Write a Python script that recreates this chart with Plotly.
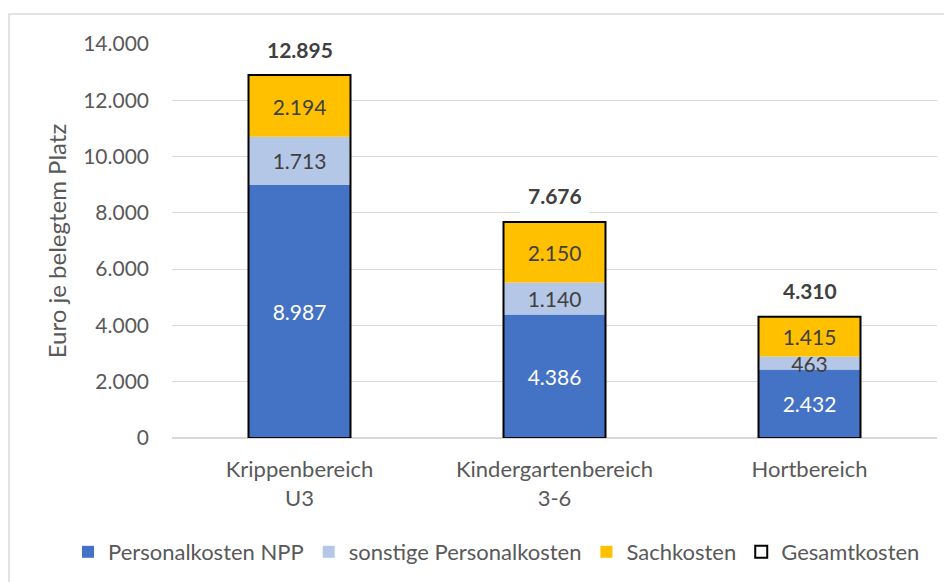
import plotly.graph_objects as go

categories = ["Krippenbereich<br>U3", "Kindergartenbereich<br>3-6", "Hortbereich"]
personal_npp = [8987, 4386, 2432]
sonstige_personal = [1713, 1140, 463]
sachkosten = [2194, 2150, 1415]
gesamtkosten = [12895, 7676, 4310]
y_ticks = [0, 2000, 4000, 6000, 8000, 10000, 12000, 14000]


def de(v):
    return f"{v:,}".replace(",", ".")


FONT = "Lato"
base_sonst = personal_npp
base_sach = [a + b for a, b in zip(personal_npp, sonstige_personal)]

fig = go.Figure()
fig.add_trace(go.Bar(
    name="Personalkosten NPP", x=categories, y=personal_npp, base=[0] * 3,
    marker=dict(color="#4472C4", line=dict(width=0)),
    text=[de(v) for v in personal_npp], textposition="inside", insidetextanchor="middle",
    textfont=dict(color="white", size=21, family=FONT), width=0.4,
))
fig.add_trace(go.Bar(
    name="sonstige Personalkosten", x=categories, y=sonstige_personal, base=base_sonst,
    marker=dict(color="#B4C7E7", line=dict(width=0)),
    text=[de(v) for v in sonstige_personal], textposition="inside", insidetextanchor="middle",
    textfont=dict(color="#404040", size=21, family=FONT), width=0.4,
))
fig.add_trace(go.Bar(
    name="Sachkosten", x=categories, y=sachkosten, base=base_sach,
    marker=dict(color="#FFC000", line=dict(width=0)),
    text=[de(v) for v in sachkosten], textposition="inside", insidetextanchor="middle",
    textfont=dict(color="#404040", size=21, family=FONT), width=0.4,
))
fig.add_trace(go.Bar(
    name="Gesamtkosten", x=categories, y=gesamtkosten, base=[0] * 3,
    marker=dict(color="rgba(0,0,0,0)", line=dict(color="black", width=2)),
    width=0.4, hoverinfo="skip",
))

for c, v in zip(categories, gesamtkosten):
    fig.add_annotation(
        x=c, y=v, text=f"<b>{de(v)}</b>", showarrow=False, yanchor="middle",
        yshift=26, bgcolor="white", borderpad=7,
        font=dict(family=FONT, size=21, color="#404040"),
    )

# page body has an 8px margin; plot area in figure coords: x 164..929, y 36..430
PL, PR, PT, PB = 164, 929, 36, 430
PW, PH = PR - PL, PB - PT

# outer chart border (right and bottom edges run off the picture)
fig.add_shape(type="rect", xref="paper", yref="paper",
              x0=(1 - PL) / PW, x1=(975 - PL) / PW,
              y0=(PB - 600) / PH, y1=(PB - 6) / PH,
              line=dict(color="#D9D9D9", width=1.5), fillcolor="rgba(0,0,0,0)", layer="below")

fig.update_layout(
    width=952, height=582,
    margin=dict(l=PL, r=952 - PR, t=PT, b=582 - PB),
    paper_bgcolor="white", plot_bgcolor="white",
    barmode="overlay", bargap=0.6,
    separators=",.",
    font=dict(family=FONT, size=21, color="#595959"),
    uniformtext=dict(minsize=21, mode="show"),
    showlegend=True,
    legend=dict(orientation="h", x=(60 - PL) / PW, xanchor="left",
                y=(PB - 544) / PH, yanchor="middle",
                font=dict(family=FONT, size=22, color="#595959"), traceorder="normal"),
)
fig.update_yaxes(
    range=[0, 14000], tickvals=y_ticks, tickformat=",",
    showgrid=True, gridcolor="#D9D9D9", gridwidth=1.3,
    zeroline=True, zerolinecolor="#D9D9D9", zerolinewidth=1.5,
    showline=False, ticks="", ticklabelstandoff=22,
    title=dict(text="Euro je belegtem Platz", standoff=9,
               font=dict(family=FONT, size=24, color="#595959")),
    tickfont=dict(family=FONT, size=21, color="#595959"),
    automargin=False,
)
fig.update_xaxes(
    showline=False, ticks="", tickfont=dict(family=FONT, size=22, color="#595959"),
    ticklabelstandoff=16, automargin=False,
)

fig.write_html("out.html")
